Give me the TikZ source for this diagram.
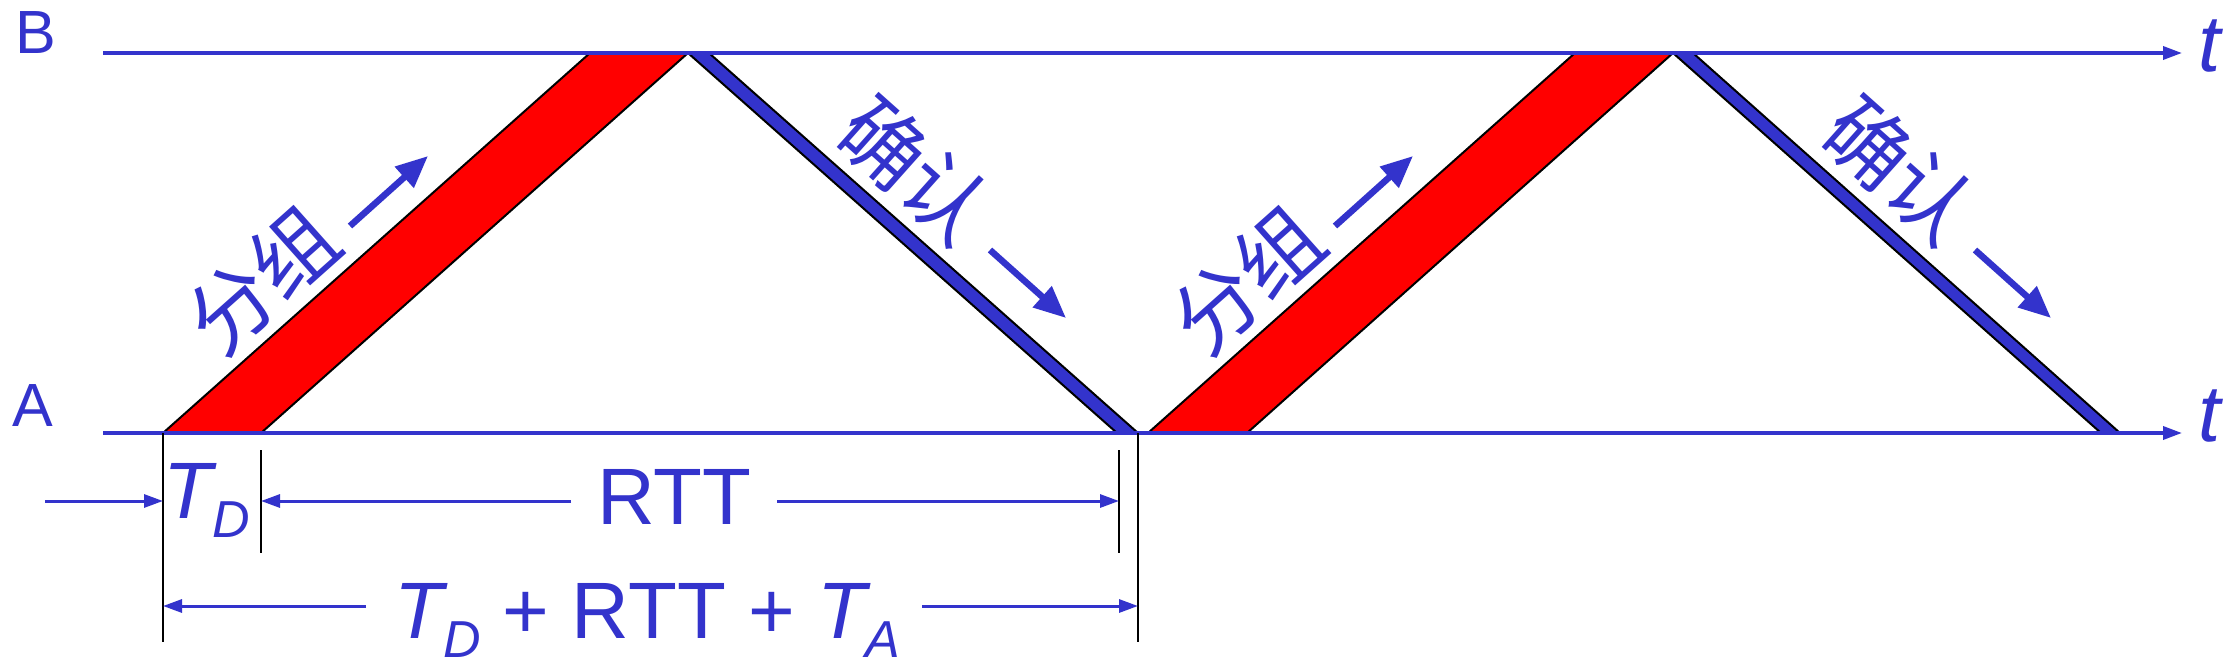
\documentclass[tikz,border=0pt]{standalone}
\usepackage{fontspec}
\setmainfont{Liberation Sans}
\newfontfamily\cjk{Noto Sans CJK SC}
\usetikzlibrary{arrows.meta}
\definecolor{myblue}{RGB}{51,51,204}
\definecolor{myred}{RGB}{255,0,0}
\newcommand\subD{\raisebox{-19pt}{\fontsize{52}{52}\selectfont\itshape D}}
\newcommand\subA{\raisebox{-19pt}{\fontsize{52}{52}\selectfont\itshape A}}
\begin{document}
\begin{tikzpicture}[x=1pt,y=-1pt,
  axis/.style={myblue,line width=3.5pt,-{Triangle[length=19pt,width=13pt]}},
  dim/.style={myblue,line width=3pt,-{Triangle[length=19pt,width=13pt]}},
  tickline/.style={black,line width=2.3pt},
  lab/.style={myblue,inner sep=0pt},
  big/.style={font=\fontsize{80}{80}\selectfont},
  cjklab/.style={myblue,inner sep=0pt,font=\cjk\fontsize{84}{84}\selectfont},
  pkt/.style={fill=myred,draw=black,line width=2pt,line join=miter},
  ack/.style={fill=myblue,draw=black,line width=2pt,line join=miter},
  dirarrow/.style={myblue,line width=6.5pt,-{Triangle[length=32pt,width=27pt]}}]
\useasboundingbox (0,0) rectangle (2239,664);
\fill[white] (0,0) rectangle (2239,664);

% packets and acks
\draw[pkt] (163,433) -- (261,433) -- (688,53) -- (590,53) -- cycle;
\draw[ack] (688,53) -- (709,53) -- (1138,433) -- (1117,433) -- cycle;
\draw[pkt] (1148,433) -- (1247,433) -- (1673,53) -- (1575,53) -- cycle;
\draw[ack] (1673,53) -- (1693,53) -- (2120,433) -- (2101,433) -- cycle;

% time axes
\coordinate (Bs) at (103,53);
\coordinate (Be) at (2182,53);
\coordinate (As) at (103,433);
\coordinate (Ae) at (2182,433);
\draw[axis] (Bs) -- (Be);
\draw[axis] (As) -- (Ae);
\node[lab,font=\fontsize{61}{61}\selectfont,anchor=base west] (Blab) at (15,53) {B};
\node[lab,font=\fontsize{61}{61}\selectfont,anchor=base west] (Alab) at (12,426) {A};
\node[lab,big,anchor=base] (tB) at (2210,71) {\itshape t};
\node[lab,big,anchor=base] (tA) at (2210,441) {\itshape t};

% direction labels
\node[cjklab,rotate=41.7] (g1) at (262,280) {分组};
\node[cjklab,rotate=-41.7] (q1) at (915,170) {确认};
\node[cjklab,rotate=41.7] (g2) at (1247,280) {分组};
\node[cjklab,rotate=-41.7] (q2) at (1900,170) {确认};
\coordinate (g1s) at (350,226); \coordinate (g1e) at (428,156);
\coordinate (q1s) at (990,250); \coordinate (q1e) at (1066,318);
\coordinate (g2s) at (1335,226); \coordinate (g2e) at (1413,156);
\coordinate (q2s) at (1975,250); \coordinate (q2e) at (2051,318);
\draw[dirarrow] (g1s) -- (g1e);
\draw[dirarrow] (q1s) -- (q1e);
\draw[dirarrow] (g2s) -- (g2e);
\draw[dirarrow] (q2s) -- (q2e);

% extension lines
\coordinate (v1t) at (163,433); \coordinate (v1b) at (163,642);
\coordinate (v2t) at (261,450); \coordinate (v2b) at (261,553);
\coordinate (v3t) at (1119,450); \coordinate (v3b) at (1119,553);
\coordinate (v4t) at (1138,433); \coordinate (v4b) at (1138,642);
\draw[tickline] (v1t) -- (v1b);
\draw[tickline] (v2t) -- (v2b);
\draw[tickline] (v3t) -- (v3b);
\draw[tickline] (v4t) -- (v4b);

% dimension labels
\node[lab,big,anchor=base west] (TD) at (163,518) {{\itshape T}\subD};
\node[lab,big,anchor=base west] (RTT) at (597,524) {RTT};
\node[lab,big,anchor=base west] (tot) at (394,638) {{\itshape T}\subD{} + RTT + {\itshape T}\subA};

% dimension arrows
\coordinate (a1s) at (45,501); \coordinate (a1e) at (163,501);
\coordinate (a2s) at (571,501); \coordinate (a2e) at (261,501);
\coordinate (a3s) at (777,501); \coordinate (a3e) at (1119,501);
\coordinate (a4s) at (366,606); \coordinate (a4e) at (163,606);
\coordinate (a5s) at (922,606); \coordinate (a5e) at (1138,606);
\draw[dim] (a1s) -- (a1e);
\draw[dim] (a2s) -- (a2e);
\draw[dim] (a3s) -- (a3e);
\draw[dim] (a4s) -- (a4e);
\draw[dim] (a5s) -- (a5e);
\end{tikzpicture}
\end{document}
